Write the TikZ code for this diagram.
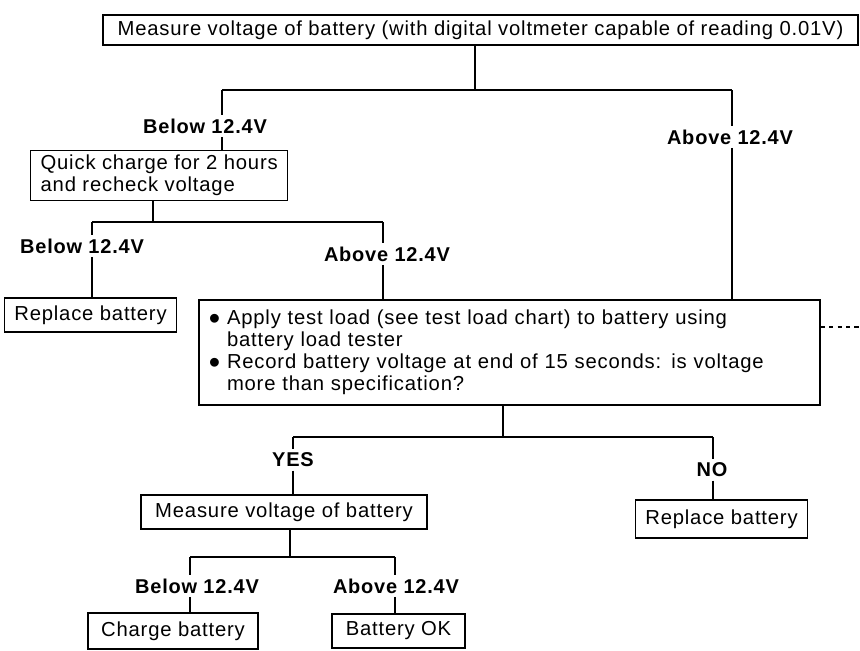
\documentclass[tikz,border=0pt]{standalone}
\usepackage{fontspec}
\setmainfont{Liberation Sans}[LetterSpace=4]
\newcommand{\itemdot}{\raisebox{-0.24em}{\scalebox{1.6}{\textbullet}}}

\begin{document}
\begin{tikzpicture}[x=0.025cm, y=-0.025cm, line width=0.9pt,
		box/.style={draw, inner xsep=0.25cm, inner ysep=0pt, font=\fontsize{14.4}{15.6}\selectfont},
		cond/.style={inner sep=2pt, font=\fontsize{14.2}{16}\selectfont\bfseries}]
	\useasboundingbox (0,0) rectangle (860,650);

	% first reading
	\node[box, minimum width=18.875cm, minimum height=0.75cm] (meas) at (480.5,30) {Measure voltage of battery (with digital voltmeter capable of reading 0.01V)};
	\coordinate (h1) at (475,90);
	\coordinate (h1l) at (222,90);
	\coordinate (h1r) at (732,90);
	\node[cond] (lb1) at (205,126) {Below 12.4V};
	\node[cond] (la1) at (730,137) {Above 12.4V};
	\node[box, anchor=north west, align=left, minimum height=1.25cm] (qc) at (30,150) {Quick charge for 2 hours\\and recheck voltage};

	% after quick charge
	\coordinate (h2) at (153,222);
	\coordinate (h2l) at (92,222);
	\coordinate (h2r) at (383,222);
	\node[cond] (lb2) at (82,246) {Below 12.4V};
	\node[cond] (la2) at (387,254) {Above 12.4V};
	\node[box, minimum width=4.225cm, minimum height=0.85cm] (rb1) at (90.5,315) {Replace battery};
	\node[box, text width=15.025cm, align=left, minimum height=2.625cm] (apply) at (509.5,352.5) {\itemdot\ Apply test load (see test load chart) to battery using\\
		\phantom{\itemdot\ }battery load tester\\
		\itemdot\ Record battery voltage at end of 15 seconds: is voltage\\
		\phantom{\itemdot\ }more than specification?};
	\coordinate (dash) at (860,327);

	% load test result
	\coordinate (h3) at (503,437);
	\coordinate (h3l) at (293,437);
	\coordinate (h3r) at (713,437);
	\node[cond] (yes) at (293,460) {YES};
	\node[cond] (no) at (712,470) {NO};
	\node[box, minimum width=7.15cm, minimum height=0.85cm] (mv) at (284,512) {Measure voltage of battery};
	\node[box, minimum width=4.175cm, minimum height=0.95cm] (rb2) at (721.5,519) {Replace battery};

	% second reading
	\coordinate (h4) at (290,557);
	\coordinate (h4l) at (190,557);
	\coordinate (h4r) at (395,557);
	\node[cond] (lb4) at (197,586) {Below 12.4V};
	\node[cond] (la4) at (396,586) {Above 12.4V};
	\node[box, minimum width=4.25cm, minimum height=0.9cm] (cb) at (173,631) {Charge battery};
	\node[box, minimum width=3.325cm, minimum height=0.85cm] (ok) at (398.5,631) {Battery OK};

	\draw (meas.south -| h1) -- (h1);
	\draw (h1l) -- (h1r);
	\draw (h1l) -- (h1l |- lb1.north);
	\draw (h1l |- lb1.south) -- (h1l |- qc.north);
	\draw (h1r) -- (h1r |- la1.north);
	\draw (h1r |- la1.south) -- (h1r |- apply.north);

	\draw (qc.south -| h2) -- (h2);
	\draw (h2l) -- (h2r);
	\draw (h2l) -- (h2l |- lb2.north);
	\draw (h2l |- lb2.south) -- (h2l |- rb1.north);
	\draw (h2r) -- (h2r |- la2.north);
	\draw (h2r |- la2.south) -- (h2r |- apply.north);
	\draw[dashed] (dash -| apply.east) -- (dash);

	\draw (apply.south -| h3) -- (h3);
	\draw (h3l) -- (h3r);
	\draw (h3l) -- (h3l |- yes.north);
	\draw (h3l |- yes.south) -- (h3l |- mv.north);
	\draw (h3r) -- (h3r |- no.north);
	\draw (h3r |- no.south) -- (h3r |- rb2.north);

	\draw (mv.south -| h4) -- (h4);
	\draw (h4l) -- (h4r);
	\draw (h4l) -- (h4l |- lb4.north);
	\draw (h4l |- lb4.south) -- (h4l |- cb.north);
	\draw (h4r) -- (h4r |- la4.north);
	\draw (h4r |- la4.south) -- (h4r |- ok.north);
\end{tikzpicture}
\end{document}
